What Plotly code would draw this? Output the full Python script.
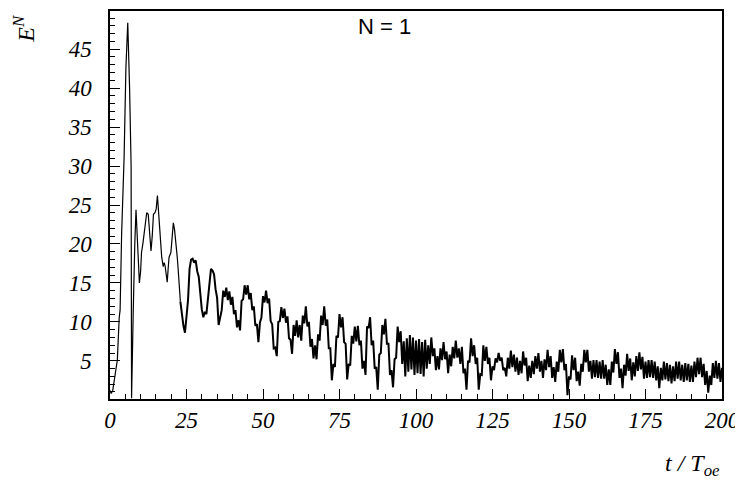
import numpy as np
import plotly.graph_objects as go

# early, smooth part of the curve (t in units of T_oe)
t_early = [0.0, 0.4, 0.9, 1.6, 2.4, 3.0, 3.3, 3.8, 4.6, 5.2, 5.8, 6.4, 6.9, 7.05,
           7.3, 7.6, 8.1, 8.5, 8.9, 9.3, 9.6, 10.0, 10.3, 10.8, 11.2, 11.6, 12.0,
           12.5, 12.9, 13.4, 13.8, 14.2, 14.7, 15.1, 15.5, 15.9, 16.3, 16.9, 17.4,
           17.7, 18.0, 18.4, 18.7, 19.0, 19.3, 19.9, 20.3, 20.7, 21.1, 21.5, 22.0,
           22.3, 22.6, 23.0]
e_early = [1.2, 0.8, 1.2, 2.9, 5.1, 10.5, 11.5, 21.3, 31.0, 42.6, 48.4, 40.0, 30.0, 0.2,
           4.0, 11.5, 20.0, 24.4, 21.0, 16.5, 15.0, 16.5, 18.9, 20.2, 21.5, 23.2, 24.0,
           23.8, 21.5, 19.1, 21.0, 23.8, 24.0, 24.5, 26.2, 24.0, 20.8, 18.3, 17.1,
           17.6, 17.2, 16.0, 15.1, 16.8, 18.3, 18.9, 20.5, 22.7, 21.8, 20.4, 18.2,
           16.6, 14.5, 12.6]

# noisy part, sampled every 0.5 T_oe from t = 23
step = 0.5
e_23_37 = [12.6, 10.6, 9.5, 8.6, 10.4, 12.8, 16.8, 18.0, 18.1, 17.6, 17.9, 16.5, 15.8, 13.3,
           11.6, 10.6, 11.3, 11.0, 13.3, 14.7, 16.8, 16.6, 16.1, 14.2, 13.1, 9.6, 10.5, 11.5]
e_37_60 = [14.0, 13.2, 14.4, 12.8, 13.9, 12.2, 13.2, 11.0, 11.5, 9.3, 10.2, 8.9, 12.7, 12.9,
           14.7, 13.5, 14.7, 12.9, 13.7, 11.5, 12.0, 9.5, 9.7, 7.4, 9.9, 10.6, 13.3, 12.5,
           14.0, 12.4, 13.0, 10.1, 9.7, 6.6, 6.7, 5.6, 10.0, 10.1, 11.9, 10.5, 11.7, 9.9,
           10.7, 7.9, 7.7, 5.9]
e_60_95 = [9.6, 8.2, 10.2, 8.0, 9.6, 7.6, 10.8, 9.8, 12.0, 9.4, 10.0, 6.8, 7.8, 5.3, 7.0,
           5.2, 8.4, 7.6, 10.8, 9.6, 12.0, 9.5, 10.3, 6.6, 6.6, 2.5, 4.6, 4.2, 8.2, 8.0,
           11.0, 9.3, 10.6, 7.4, 7.2, 2.6, 4.6, 4.4, 8.2, 7.2, 9.4, 7.5, 9.5, 7.0, 7.6, 4.0,
           5.0, 3.2, 9.4, 9.2, 10.6, 7.0, 7.6, 4.0, 4.2, 1.3, 5.8, 6.0, 9.6, 8.4, 10.4, 7.2,
           7.2, 3.2, 3.8, 1.6, 5.2, 5.4, 9.4, 7.4]
e_95_105 = [8.8, 4.6, 7.5, 3.0, 7.9, 3.6, 8.3, 3.9, 8.0, 3.2, 7.6, 3.4, 7.8, 3.3, 7.4, 3.0,
            7.7, 4.0, 7.0, 4.6]
e_105_130 = [8.0, 5.6, 6.6, 3.8, 5.6, 3.9, 6.6, 5.1, 7.4, 5.2, 6.2, 3.4, 5.8, 4.3, 6.8, 5.3,
             7.6, 5.4, 6.6, 4.6, 6.8, 3.4, 4.0, 1.3, 5.0, 4.8, 7.9, 5.6, 7.0, 4.6, 5.4, 1.3,
             3.3, 3.2, 7.0, 5.0, 6.8, 4.6, 5.4, 2.5, 4.3, 3.8, 5.3, 4.8, 6.0, 5.0, 5.4, 3.8,
             4.1, 3.0]
e_130_157 = [5.4, 4.0, 6.3, 4.2, 5.8, 3.6, 5.4, 3.2, 5.0, 3.4, 6.2, 4.4, 5.4, 2.4, 4.4, 2.8,
             5.0, 3.3, 5.6, 4.0, 6.0, 3.6, 5.0, 2.8, 5.2, 3.8, 6.4, 4.2, 5.6, 2.8, 4.2, 2.3,
             4.9, 3.6, 6.4, 4.8, 6.5, 3.8, 4.6, 0.6, 3.0, 2.6, 5.7, 3.8, 5.4, 2.4, 3.6, 1.8,
             4.6, 3.6, 6.4, 4.8, 6.4, 3.6]
e_157_200 = [5.0, 2.7, 5.1, 2.9, 5.1, 2.8, 4.9, 2.7, 5.1, 2.7, 4.5, 1.9, 3.9, 1.9, 4.9, 3.5,
             6.5, 4.6, 6.1, 2.8, 4.0, 1.5, 4.5, 3.1, 5.9, 3.7, 5.3, 2.5, 4.8, 3.0, 5.6, 3.7,
             6.1, 3.9, 5.5, 2.7, 4.9, 2.8, 5.1, 2.9, 5.1, 2.8, 4.9, 2.5, 4.3, 1.5, 4.1, 2.5,
             4.9, 2.6, 4.7, 2.4, 4.5, 2.1, 4.3, 2.4, 4.9, 2.7, 4.9, 2.5, 4.5, 2.3, 4.7, 2.5,
             4.6, 2.3, 4.4, 2.3, 4.9, 2.9, 5.4, 3.3, 5.4, 2.9, 4.6, 1.9, 3.7, 0.9, 3.1, 1.9,
             4.7, 2.8, 5.0, 2.7, 4.7, 2.3, 4.1]

x_ticks = [0, 25, 50, 75, 100, 125, 150, 175, 200]
y_ticks = [5, 10, 15, 20, 25, 30, 35, 40, 45]

e_noisy = e_23_37 + e_37_60 + e_60_95 + e_95_105 + e_105_130 + e_130_157 + e_157_200
t_noisy = 23.0 + step * np.arange(len(e_noisy))

fig = go.Figure()
fig.add_trace(go.Scatter(x=t_early, y=e_early, mode='lines',
                         line=dict(color='black', width=1.2),
                         showlegend=False, hoverinfo='skip'))
# the fast wiggles read as a thick black band in the original
fig.add_trace(go.Scatter(x=t_noisy, y=e_noisy, mode='lines',
                         line=dict(color='black', width=2.0),
                         showlegend=False, hoverinfo='skip'))

tickfont = dict(family='Liberation Serif, Times New Roman, serif', size=23,
                color='black', style='italic')

# the page body has an 8px margin, so the figure is 8px smaller than the window
fig.update_layout(
    width=735, height=475,
    margin=dict(l=102, r=21, t=1, b=84),
    paper_bgcolor='white', plot_bgcolor='white',
    xaxis=dict(range=[0, 200], tickvals=x_ticks, ticks='inside', ticklen=10,
               tickcolor='black', tickwidth=1, showgrid=False, zeroline=False,
               showline=True, linecolor='black', linewidth=1.5, mirror=True,
               tickfont=tickfont, ticklabelstandoff=0,
               minor=dict(dtick=5, ticks='inside', ticklen=5, tickcolor='black')),
    yaxis=dict(range=[0.1, 49.9], tickvals=y_ticks, ticks='inside', ticklen=10,
               tickcolor='black', tickwidth=1, showgrid=False, zeroline=False,
               showline=True, linecolor='black', linewidth=1.5, mirror=True,
               tickfont=tickfont, ticklabelstandoff=12,
               minor=dict(dtick=1, ticks='inside', ticklen=5, tickcolor='black')),
)

serif_it = dict(family='Liberation Serif, Times New Roman, serif', size=24,
                color='black', style='italic')

fig.add_annotation(text='N = 1', xref='paper', yref='paper', x=0.448, y=0.96,
                   xanchor='center', yanchor='middle', showarrow=False,
                   font=dict(family='Liberation Sans, Arial, sans-serif', size=22, color='black'))
fig.add_annotation(text='t / T<sub>oe</sub>', xref='paper', yref='paper', x=1.0, y=-0.17,
                   xanchor='right', yanchor='middle', showarrow=False, font=serif_it)
fig.add_annotation(text='E<sup>N</sup>', xref='paper', yref='paper', x=-0.14, y=0.955,
                   xanchor='center', yanchor='middle', showarrow=False, textangle=-90,
                   font=serif_it)

fig.write_html("out.html")
